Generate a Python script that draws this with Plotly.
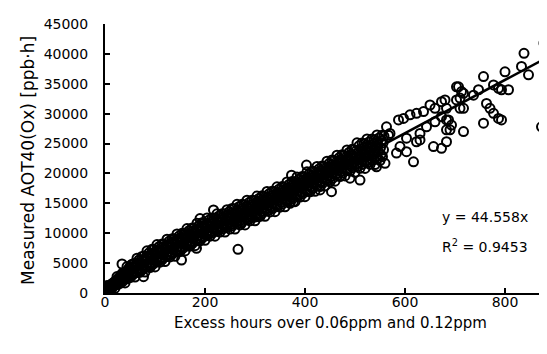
import plotly.graph_objects as go

# Dense band of observations: Excess hours (x) vs Measured AOT40(Ox) (y), read row by row
band_x = [
    0,2,1,3,4,5,7,6,8, 10,12,11,13,14,15,17,16,18, 20,22,21,23,24,25,27,26,28,
    30,32,31,33,34,35,37,36,38, 40,42,41,43,44,45,47,46,48, 50,52,51,53,54,55,57,56,58,
    60,62,61,63,64,65,67,66,68, 70,72,71,73,74,75,77,76,78, 80,82,81,83,84,85,87,86,88,
    90,92,91,93,94,95,97,96,98, 100,102,101,103,104,105,107,106,108,
    110,112,111,113,114,115,117,116,118, 120,122,121,123,124,125,127,126,128,
    130,132,131,133,134,135,137,136,138, 140,142,141,143,144,145,147,146,148,
    150,152,151,153,154,155,157,156,158, 160,162,161,163,164,165,167,166,168,
    170,172,171,173,174,175,177,176,178, 180,182,181,183,184,185,187,186,188,
    190,192,191,193,194,195,197,196,198, 200,202,201,203,204,205,207,206,208,
    210,212,211,213,214,215,217,216,218, 220,222,221,223,224,225,227,226,228,
    230,232,231,233,234,235,237,236,238, 240,242,241,243,244,245,247,246,248,
    250,252,251,253,254,255,257,256,258, 260,262,261,263,264,265,267,266,268,
    270,272,271,273,274,275,277,276,278, 280,282,281,283,284,285,287,286,288,
    290,292,291,293,294,295,297,296,298, 300,302,301,303,304,305,307,306,308,
    310,312,311,313,314,315,317,316,318, 320,322,321,323,324,325,327,326,328,
    330,332,331,333,334,335,337,336,338, 340,342,341,343,344,345,347,346,348,
    350,352,351,353,354,355,357,356,358, 360,362,361,363,364,365,367,366,368,
    370,372,371,373,374,375,377,376,378, 380,382,381,383,384,385,387,386,388,
    390,392,391,393,394,395,397,396,398, 400,402,401,403,404,405,407,406,408,
    410,412,411,413,414,415,417,416,418, 420,422,421,423,424,425,427,426,428,
    430,432,431,433,434,435,437,436,438, 440,442,441,443,444,445,447,446,448,
    450,452,451,453,454,455,457,456,458, 460,462,461,463,464,465,467,466,468,
    470,472,471,473,474,475,477,476,478, 480,482,481,483,484,485,487,486,488,
    490,492,491,493,494,495,497,496,498, 500,502,501,503,504,505,507,506,508,
    510,512,511,513,514,515,517,516,518, 520,522,521,523,524,525,527,526,528,
    530,532,531,533,534,535,537,536,538, 540,542,541,543,544,545,547,546,548,
    550,552,551,553,554,555,557,556,558,
]
band_y = [
    300,500,700,900,1250,620,820,1020,1220,
    700,850,1150,1450,1550,920,1220,1520,1820,
    800,1400,1800,2200,2750,1420,1820,2220,2620,
    1600,1950,2450,2950,3250,1920,2420,2920,3420,
    1680,2480,3080,3680,4430,2400,3000,3600,4200,
    2580,3080,3730,4380,4830,2980,3630,4280,4930,
    2670,3570,4270,4970,5820,3440,4140,4840,5540,
    3470,4070,4820,5570,6120,3920,4670,5420,6170,
    3510,4510,5310,6110,7060,4330,5130,5930,6730,
    4260,4960,5810,6660,7310,4750,5600,6450,7300,
    4360,5410,6260,7110,8110,5200,6050,6900,7750,
    5150,5850,6700,7550,8200,5640,6490,7340,8190,
    5250,6300,7150,8000,9000,6090,6940,7790,8640,
    6040,6740,7590,8440,9090,6530,7380,8230,9080,
    6140,7190,8040,8890,9890,6980,7830,8680,9530,
    6930,7630,8480,9330,9980,7420,8270,9120,9970,
    7030,8080,8930,9780,10780,7870,8720,9570,10420,
    7830,8530,9380,10230,10880,8320,9170,10020,10870,
    7920,8970,9820,10670,11670,8760,9610,10460,11310,
    8720,9420,10270,11120,11770,9210,10060,10910,11760,
    8810,9860,10710,11560,12560,9650,10500,11350,12200,
    9510,10210,11060,11910,12560,10000,10850,11700,12550,
    9500,10550,11400,12250,13250,10340,11190,12040,12890,
    10200,10900,11750,12600,13250,10690,11540,12390,13240,
    10190,11240,12090,12940,13940,11030,11880,12730,13580,
    10690,11490,12440,13390,14140,11240,12190,13140,14090,
    10690,11840,12790,13740,14840,11590,12540,13490,14440,
    11380,12180,13130,14080,14830,11930,12880,13830,14780,
    11380,12530,13480,14430,15530,12280,13230,14180,15130,
    12070,12870,13820,14770,15520,12620,13570,14520,15470,
    12070,13220,14170,15120,16220,12970,13920,14870,15820,
    12800,13600,14550,15500,16250,13350,14300,15250,16200,
    12840,13990,14940,15890,16990,13740,14690,15640,16590,
    13570,14370,15320,16270,17020,14120,15070,16020,16970,
    13610,14760,15710,16660,17760,14510,15460,16410,17360,
    14350,15150,16100,17050,17800,14900,15850,16800,17750,
    14420,15570,16520,17470,18570,15320,16270,17220,18170,
    15200,16000,16950,17900,18650,15750,16700,17650,18600,
    15270,16420,17370,18320,19420,16170,17120,18070,19020,
    16050,16850,17800,18750,19500,16600,17550,18500,19450,
    16120,17270,18220,19170,20270,17020,17970,18920,19870,
    16920,17720,18670,19620,20370,17470,18420,19370,20320,
    17010,18160,19110,20060,21160,17910,18860,19810,20760,
    17810,18610,19560,20510,21260,18360,19310,20260,21210,
    17910,19060,20010,20960,22060,18810,19760,20710,21660,
    18600,19450,20450,21450,22250,19170,20170,21170,22170,
    18700,19900,20900,21900,23050,19620,20620,21620,22620,
    19490,20340,21340,22340,23140,20060,21060,22060,23060,
    19590,20790,21790,22790,23940,20510,21510,22510,23510,
    20380,21230,22230,23230,24030,20950,21950,22950,23950,
    20180,21530,22680,23830,25130,21180,22330,23480,24630,
    20850,21850,23000,24150,25100,21500,22650,23800,24950,
    20830,22180,23330,24480,25780,21830,22980,24130,25280,
    21510,22510,23660,24810,25760,22160,23310,24460,25610,
    21480,22830,23980,25130,26430,22480,23630,24780,25930,
    22160,23160,24310,25460,26410,22810,23960,25110,26260,
]

# Scattered observations off the main band
outer_x = [4,34,77,153,183,266,160,190,217,273,303,310,370,373,377,403,430,453,470,490,
           510,543,560,563,567,570,583,587,590,597,603,603,610,617,623,623,630,630,637,643,
           650,657,660,660,673,673,673,680,683,683,683,683,687,690,693,703,703,707,710,710,
           713,717,717,717,737,747,757,757,763,770,777,777,787,787,793,793,800,807,833,838,
           847,873,878]
outer_y = [840,4850,2730,5520,7480,7300,10000,12450,13900,11650,12750,13050,15000,19700,15300,
           21400,17250,16950,22250,19200,18900,21100,21700,27800,26400,26700,23400,28950,24500,
           29200,25900,23650,29800,21950,30050,25300,26700,25600,30350,27800,31450,24500,30900,
           28650,32000,29500,24200,32300,30900,27300,25300,28950,28950,27300,28100,34500,32300,
           34500,30900,32600,33700,33400,27000,30900,33100,34000,36200,28400,31700,30900,34800,
           30050,34250,29200,34000,28950,37000,34000,37900,40100,36500,27800,41800]

slope = 44.558
r_squared = 0.9453
fit_x = [0, 900]
fit_y = [slope * v for v in fit_x]

x_ticks = [0, 200, 400, 600, 800]
y_ticks = [0, 5000, 10000, 15000, 20000, 25000, 30000, 35000, 40000, 45000]

FONT = "DejaVu Sans"
OFF = 8  # page body margin offset
W, H = 547 - OFF, 354 - OFF
L, R, T, B = 105 - OFF, 0, 24 - OFF, 354 - 293
PW, PH = W - L - R, H - T - B


def px_to_paper(px, py):
    # px, py measured on the reference page
    return (px - OFF - L) / PW, (H - B - (py - OFF)) / PH


fig = go.Figure()
fig.add_trace(go.Scatter(
    x=band_x + outer_x, y=band_y + outer_y, mode="markers",
    marker=dict(symbol="circle-open", size=9, color="black", line=dict(width=2, color="black")),
    showlegend=False, hoverinfo="skip"))
fig.add_trace(go.Scatter(
    x=fit_x, y=fit_y, mode="lines", line=dict(color="black", width=2.5),
    showlegend=False, hoverinfo="skip"))

ax, ay = px_to_paper(530, 217)
fig.add_annotation(x=ax, y=ay, xref="paper", yref="paper", text="y = 44.558x",
                   showarrow=False, xanchor="right", yanchor="middle",
                   font=dict(family=FONT, size=14, color="black"))
ax, ay = px_to_paper(530, 246)
fig.add_annotation(x=ax, y=ay, xref="paper", yref="paper",
                   text="R<sup>2</sup> = " + str(r_squared),
                   showarrow=False, xanchor="right", yanchor="middle",
                   font=dict(family=FONT, size=14, color="black"))

# axis titles
ax, ay = px_to_paper(330, 323)
fig.add_annotation(x=ax, y=ay, xref="paper", yref="paper",
                   text="Excess hours over 0.06ppm and 0.12ppm",
                   showarrow=False, xanchor="center", yanchor="middle",
                   font=dict(family=FONT, size=15, color="black"))
ax, ay = px_to_paper(28, 161)
fig.add_annotation(x=ax, y=ay, xref="paper", yref="paper",
                   text="Measured AOT40(Ox) [ppb·h]", textangle=-90,
                   showarrow=False, xanchor="center", yanchor="middle",
                   font=dict(family=FONT, size=17, color="black"))

fig.update_layout(
    width=W, height=H,
    margin=dict(l=L, r=R, t=T, b=B, autoexpand=False),
    paper_bgcolor="white", plot_bgcolor="white",
    font=dict(family=FONT, size=14, color="black"),
)
fig.update_xaxes(
    range=[0, 884], tickvals=x_ticks, ticks="inside", ticklen=5, tickwidth=1.5,
    tickcolor="black", showline=True, linecolor="black", linewidth=2,
    showgrid=False, zeroline=False, tickfont=dict(family=FONT, size=14),
    tickformat="d", ticklabelstandoff=-5, automargin=False,
)
fig.update_yaxes(
    range=[0, 45000], tickvals=y_ticks, ticks="inside", ticklen=5, tickwidth=1.5,
    tickcolor="black", showline=True, linecolor="black", linewidth=2,
    showgrid=False, zeroline=False, tickfont=dict(family=FONT, size=14),
    tickformat="d", ticklabelstandoff=12, automargin=False,
)

fig.write_html("out.html")
